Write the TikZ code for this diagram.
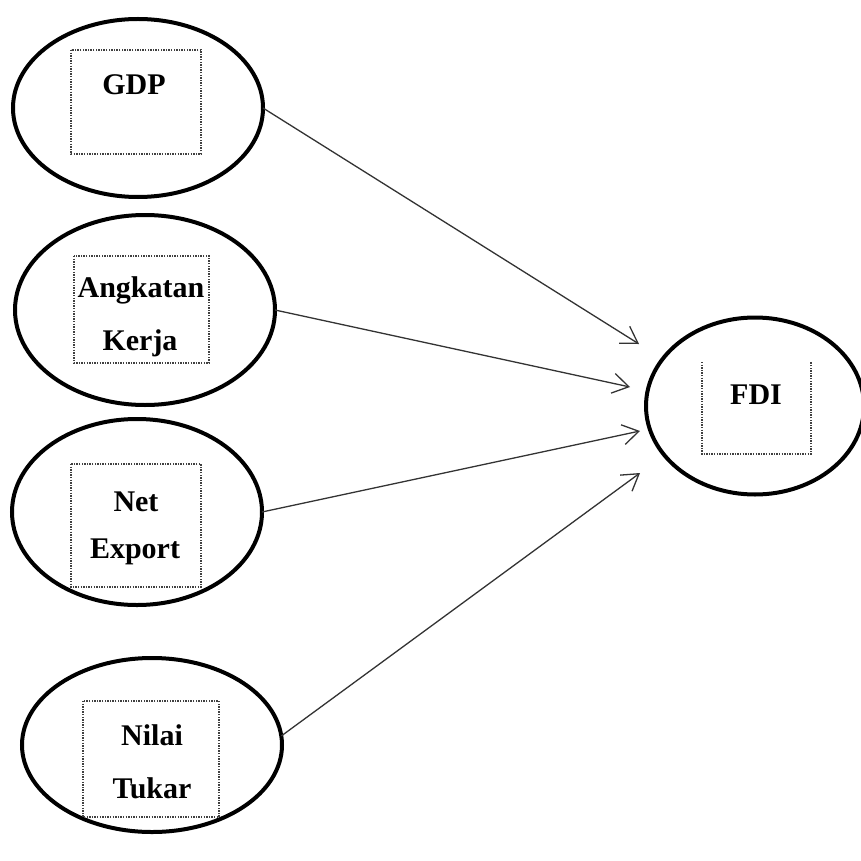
\documentclass[tikz,border=0pt]{standalone}
\usepackage{fontspec}
\setmainfont{Liberation Serif}
\usetikzlibrary{shapes.geometric,arrows.meta}
\begin{document}
\begin{tikzpicture}[x=1pt,y=-1pt,
  oval/.style={ellipse,draw=black,line width=4pt,inner sep=0pt,outer sep=0pt},
  dotbox/.style={draw=black!75,dash pattern=on 1.4pt off 1.2pt,line width=1.6pt},
  lbl/.style={font=\bfseries\fontsize{30}{52}\selectfont,align=center,inner sep=0pt,text=black},
  arr/.style={draw=black!80,line width=1.3pt,-{Straight Barb[length=16pt,width=20pt]}}]
\useasboundingbox (0,0) rectangle (861,861);
% ellipses
\node[oval,minimum width=250pt,minimum height=178pt] (gdp) at (138,108) {};
\node[oval,minimum width=260pt,minimum height=190pt] (ak) at (145,310) {};
\node[oval,minimum width=250pt,minimum height=186pt] (ne) at (137,512) {};
\node[oval,minimum width=260pt,minimum height=174pt] (nt) at (152,745) {};
\node[oval,minimum width=218pt,minimum height=177pt] (fdi) at (755,406) {};
% dotted boxes
\draw[dotbox] (71,50) rectangle (201,154);
\draw[dotbox] (74,256) rectangle (209,363);
\draw[dotbox] (71,464) rectangle (201,587);
\draw[dotbox] (83,701) rectangle (219,817);
\draw[dotbox] (702,362) -- (702,454) -- (811,454) -- (811,362);
% labels
\node[lbl] (tgdp) at (134,85) {GDP};
\node[lbl] (tak1) at (141,290) {Angkatan};
\node[lbl] (tak2) at (140,343) {Kerja};
\node[lbl] (tne1) at (136,502) {Net};
\node[lbl] (tne2) at (135,552) {Export};
\node[lbl] (tnt1) at (152,735) {Nilai};
\node[lbl] (tnt2) at (152,788) {Tukar};
\node[lbl] (tfdi) at (756,395) {FDI};
% arrow tips
\coordinate (t1) at (639,344);
\coordinate (t2) at (630,387);
\coordinate (t3) at (640,431);
\coordinate (t4) at (640,473);
\draw[arr] (gdp.east) -- (t1);
\draw[arr] (ak.east) -- (t2);
\draw[arr] (ne.east) -- (t3);
\draw[arr] (nt.4) -- (t4);
\end{tikzpicture}
\end{document}
